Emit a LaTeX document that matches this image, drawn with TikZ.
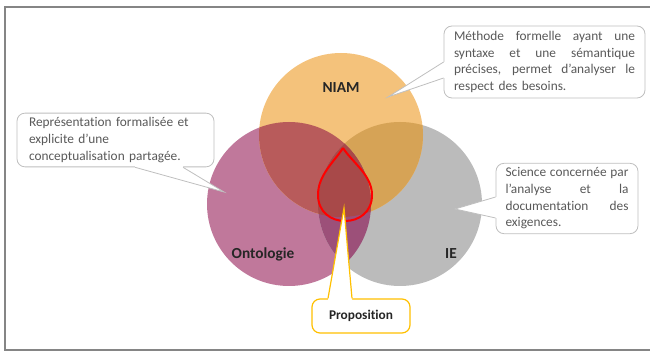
\documentclass[tikz,border=0pt]{standalone}
\usepackage{fontspec}
\setmainfont{Carlito}[Ligatures=NoCommon]
\usetikzlibrary{calc}
\definecolor{niamcol}{HTML}{F4C27B}
\definecolor{ontcol}{HTML}{C0789B}
\definecolor{iecol}{HTML}{BBBBBB}
\definecolor{niamont}{HTML}{B85B5B}
\definecolor{niamie}{HTML}{D6A356}
\definecolor{ontie}{HTML}{9C5079}
\definecolor{allthree}{HTML}{A84949}
\definecolor{boxgray}{HTML}{BFBFBF}
\definecolor{framegray}{HTML}{858585}
\definecolor{txtgray}{HTML}{595959}
\definecolor{propyellow}{HTML}{FFC000}
\newcommand{\jline}[2]{\leavevmode\hbox to #1{\spaceskip=.22em plus 1fil\relax #2}}

\begin{document}
\begin{tikzpicture}[x=0.75pt,y=-0.75pt,
  callbox/.style={draw=boxgray, fill=white, rounded corners=6pt, line width=0.6pt,
    font=\fontsize{10}{12.5}\selectfont, text=txtgray},
  callline/.style={draw=boxgray, line width=0.6pt},
  setname/.style={font=\fontsize{11.5}{13}\selectfont\bfseries, text=black!85}]
  \useasboundingbox (0,0) rectangle (650,352);
  \draw[framegray, line width=1.3pt] (5,7) rectangle (660,350);

  \coordinate (cniam) at (341,135);
  \coordinate (cont) at (289,204);
  \coordinate (cie) at (400,204);
  \fill[ontcol] (cont) circle[radius=82];
  \fill[iecol] (cie) circle[radius=82];
  \fill[niamcol] (cniam) circle[radius=82];
  \begin{scope}
    \clip (cniam) circle[radius=82];
    \fill[niamont] (cont) circle[radius=82];
    \fill[niamie] (cie) circle[radius=82];
  \end{scope}
  \begin{scope}
    \clip (cont) circle[radius=82];
    \fill[ontie] (cie) circle[radius=82];
    \clip (cniam) circle[radius=82];
    \fill[allthree] (cie) circle[radius=82];
  \end{scope}

  \node[setname] at (341,88) (niam) {NIAM};
  \node[setname] at (263,254) (ont) {Ontologie};
  \node[setname] at (451,254) (ie) {IE};

  \draw[red, line width=1.5pt, line join=round] (343,148)
    .. controls (334,162) and (318,175) .. (318,195)
    .. controls (318,212) and (331,221) .. (345,221)
    .. controls (359,221) and (372,212) .. (372,195)
    .. controls (372,175) and (352,162) .. (343,148);

  % callouts
  \node[callbox, minimum width=201*0.75pt, minimum height=72*0.75pt, text width=181*0.75pt, inner xsep=7.5pt]
    at (544.5,62) (niamtxt) {\jline{135.75pt}{Méthode formelle ayant une}\\
    \jline{135.75pt}{syntaxe et une sémantique}\\
    \jline{135.75pt}{précises, permet d’analyser le}\\
    respect des besoins.};
  \coordinate (niamtip) at (388,97);
  \fill[white] ($(niamtxt.west)+(0,0)$) -- (niamtip) -- ($(niamtxt.west)+(0,16)$)
    -- ($(niamtxt.west)+(3,16)$) -- ($(niamtxt.west)+(3,0)$) -- cycle;
  \draw[callline] ($(niamtxt.west)+(0,0)$) -- (niamtip) -- ($(niamtxt.west)+(0,16)$);

  \node[callbox, align=left, minimum width=197*0.75pt, minimum height=50*0.75pt, text width=173*0.75pt, inner xsep=9pt]
    at (115.5,140) (onttxt) {Représentation formalisée et\\
    explicite d'une\\
    conceptualisation partagée.};
  \coordinate (onttip) at (224,192);
  \fill[white] ($(onttxt.south)+(19.5,0)$) -- (onttip) -- ($(onttxt.south)+(67.5,0)$)
    -- ($(onttxt.south)+(67.5,-3)$) -- ($(onttxt.south)+(19.5,-3)$) -- cycle;
  \draw[callline] ($(onttxt.south)+(19.5,0)$) -- (onttip) -- ($(onttxt.south)+(67.5,0)$);

  \node[callbox, minimum width=142*0.75pt, minimum height=67*0.75pt, text width=123*0.75pt, inner xsep=7pt]
    at (567,198.5) (ietxt) {\jline{92.25pt}{Science concernée par}\\
    \jline{92.25pt}{l'analyse et la}\\
    \jline{92.25pt}{documentation des}\\
    exigences.};
  \coordinate (ietip) at (455,209);
  \fill[white] ($(ietxt.west)+(0,-1.5)$) -- (ietip) -- ($(ietxt.west)+(0,19.5)$)
    -- ($(ietxt.west)+(3,19.5)$) -- ($(ietxt.west)+(3,-1.5)$) -- cycle;
  \draw[callline] ($(ietxt.west)+(0,-1.5)$) -- (ietip) -- ($(ietxt.west)+(0,19.5)$);

  \node[callbox, draw=propyellow, line width=0.9pt, minimum width=98*0.75pt, minimum height=34*0.75pt,
    font=\fontsize{10}{12}\selectfont\bfseries, text=black!85]
    at (361,316) (prop) {Proposition};
  \coordinate (proptip) at (344,208);
  \fill[white] ($(prop.north)+(-33,0)$) -- (proptip) -- ($(prop.north)+(-9,0)$)
    -- ($(prop.north)+(-9,3)$) -- ($(prop.north)+(-33,3)$) -- cycle;
  \draw[propyellow, line width=0.9pt] ($(prop.north)+(-33,0)$) -- (proptip) -- ($(prop.north)+(-9,0)$);
\end{tikzpicture}
\end{document}
